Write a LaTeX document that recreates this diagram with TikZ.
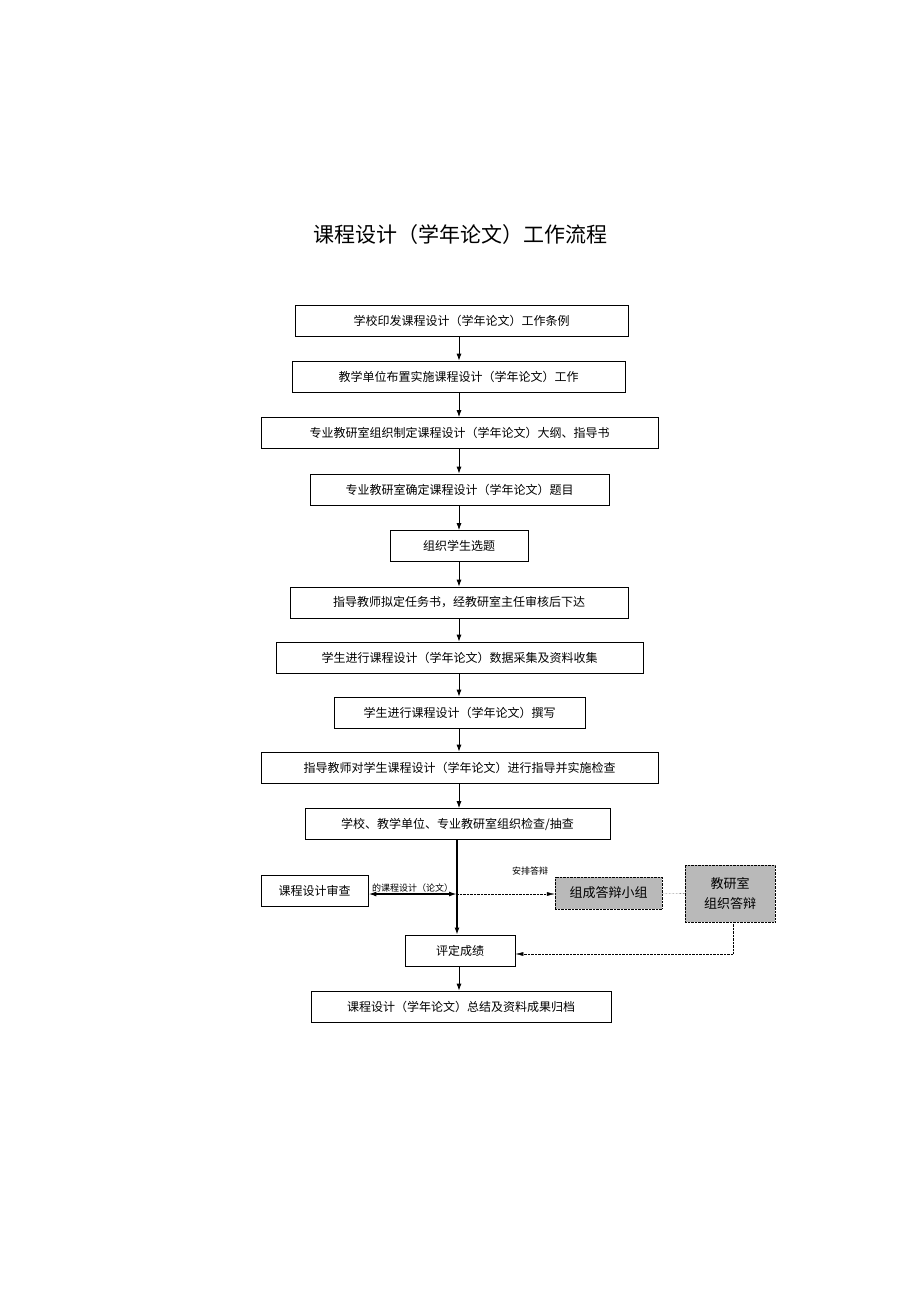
\documentclass[tikz,border=0pt]{standalone}
\usepackage{fontspec}
\newfontfamily\cjk{Noto Sans CJK SC}
\usetikzlibrary{positioning,arrows.meta}
\tikzset{
  stage/.style={draw, thick, minimum height=31pt, font=\cjk\fontsize{12}{14}\selectfont, inner sep=0pt},
  grey/.style={draw, densely dotted, fill=gray!55, font=\cjk\fontsize{13}{16}\selectfont, align=center, inner sep=0pt},
  flow/.style={-{Latex[length=7pt,width=5pt]}, thick},
  hint/.style={font=\cjk\fontsize{9}{10}\selectfont, inner sep=1pt}
}
\begin{document}
\begin{tikzpicture}[x=1pt,y=-1pt]
    \useasboundingbox (0,0) rectangle (920,1302);

    % title
    \node[font=\cjk\fontsize{21}{24}\selectfont] (title) at (460,235) {课程设计（学年论文）工作流程};

    % main column
    \node[stage, minimum width=333pt] (s1) at (461.5,320.5) {学校印发课程设计（学年论文）工作条例};
    \node[stage, minimum width=333pt] (s2) at (458.5,376.5) {教学单位布置实施课程设计（学年论文）工作};
    \node[stage, minimum width=397pt] (s3) at (459.5,433) {专业教研室组织制定课程设计（学年论文）大纲、指导书};
    \node[stage, minimum width=299pt] (s4) at (459.5,489.5) {专业教研室确定课程设计（学年论文）题目};
    \node[stage, minimum width=138pt] (s5) at (459,546) {组织学生选题};
    \node[stage, minimum width=338pt] (s6) at (459,602.5) {指导教师拟定任务书，经教研室主任审核后下达};
    \node[stage, minimum width=367pt] (s7) at (459.5,657.5) {学生进行课程设计（学年论文）数据采集及资料收集};
    \node[stage, minimum width=251pt] (s8) at (459.5,712.5) {学生进行课程设计（学年论文）撰写};
    \node[stage, minimum width=397pt] (s9) at (459.5,767.5) {指导教师对学生课程设计（学年论文）进行指导并实施检查};
    \node[stage, minimum width=305pt] (s10) at (457.5,824) {学校、教学单位、专业教研室组织检查/抽查};
    \node[stage, minimum width=107pt] (rev) at (314.5,891) {课程设计审查};
    \node[stage, minimum width=110pt] (grade) at (460,950.5) {评定成绩};
    \node[stage, minimum width=300pt] (s11) at (461,1006.5) {课程设计（学年论文）总结及资料成果归档};

    % defence side
    \node[grey, minimum width=107pt, minimum height=32pt] (team) at (608.5,893) {组成答辩小组};
    \node[grey, minimum width=90pt, minimum height=57pt] (dept) at (730,893.5) {教研室\\[4pt]组织答辩};

    \foreach \a/\b in {s1/s2, s2/s3, s3/s4, s4/s5, s5/s6, s6/s7, s7/s8, s8/s9, s9/s10, grade/s11}
        \draw[flow] (\a.south -| 459,0) -- (\b.north -| 459,0);

    \coordinate (hub) at (457,894);
    \draw[flow, line width=1.5pt] (s10.south -| hub) -- (grade.north -| hub);
    \draw[{Latex[length=8pt,width=5pt]}-{Latex[length=8pt,width=5pt]}, line width=1.5pt] (rev.east |- hub) -- node[hint, above] {的课程设计（论文）} (hub);
    \draw[-{Latex[length=8pt,width=4pt]}, densely dotted] (hub) -- (team.west |- hub);
    \node[hint] (arrange) at (530,871) {安排答辩};
    \draw[densely dotted] (team) -- (dept);
    \coordinate (turn) at (733,954);
    \draw[-{Latex[length=8pt,width=4pt]}, densely dotted] (dept.south -| turn) -- (turn) -- (grade.east |- turn);
\end{tikzpicture}
\end{document}
